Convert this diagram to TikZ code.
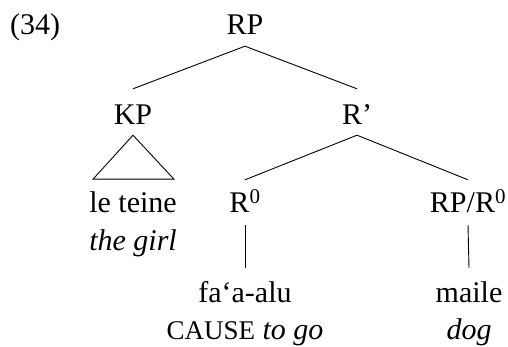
\documentclass[tikz,border=0pt]{standalone}
\usepackage{fontspec}
\setmainfont{Liberation Serif}
\usepackage{tikz}
\usetikzlibrary{positioning}

\newcommand{\fakesc}[1]{{\fontsize{27}{32}\selectfont #1}}

\tikzset{
	word/.style={font=\fontsize{30}{36}\selectfont, text height=20pt, text depth=0pt, inner sep=0pt, anchor=base},
	branch/.style={line width=0.9pt}
}

\begin{document}
\begin{tikzpicture}[x=1pt, y=1pt]
			\useasboundingbox (0, 0) rectangle (508, 347);
			% Tree nodes:
			\node[word, anchor=base west](ex) at (10, 312){(34)};
			\node[word](rp) at (245, 312){RP};
			\node[word](kp) at (133, 222){KP};
			\node[word](rbar) at (357, 222){R’};
			\node[word](rzero) at (245, 134){R\textsuperscript{0}};
			\node[word](rprzero) at (468, 134){RP/R\textsuperscript{0}};
			% Words and glosses:
			\node[word](leteine) at (133, 134){le teine};
			\node[word](thegirl) at (133, 96){\itshape the girl};
			\node[word](faaalu) at (245, 44){fa‘a-alu};
			\node[word](cause) at (245, 7){\fakesc{CAUSE} \itshape to go};
			\node[word](maile) at (469, 44){maile};
			\node[word](dog) at (469, 7){\itshape dog};
			% Branches:
			\draw[branch] ([yshift=-11pt]rp.south) -- ([yshift=16pt]kp.north);
			\draw[branch] ([yshift=-11pt]rp.south) -- ([yshift=16pt]rbar.north);
			\draw[branch] ([yshift=-10pt]rbar.south) -- ([yshift=13pt]rzero.north);
			\draw[branch] ([yshift=-10pt]rbar.south) -- ([yshift=13pt]rprzero.north);
			\draw[branch] ([yshift=-10pt]kp.south) -- ([xshift=-40pt, yshift=-54pt]kp.south) -- ([xshift=41pt, yshift=-54pt]kp.south) -- cycle;
			\draw[branch] ([yshift=-12pt]rzero.south) -- ([yshift=15pt]faaalu.north);
			\draw[branch] ([yshift=-12pt]rprzero.south) -- ([yshift=15pt]maile.north);
		\end{tikzpicture}
\end{document}
